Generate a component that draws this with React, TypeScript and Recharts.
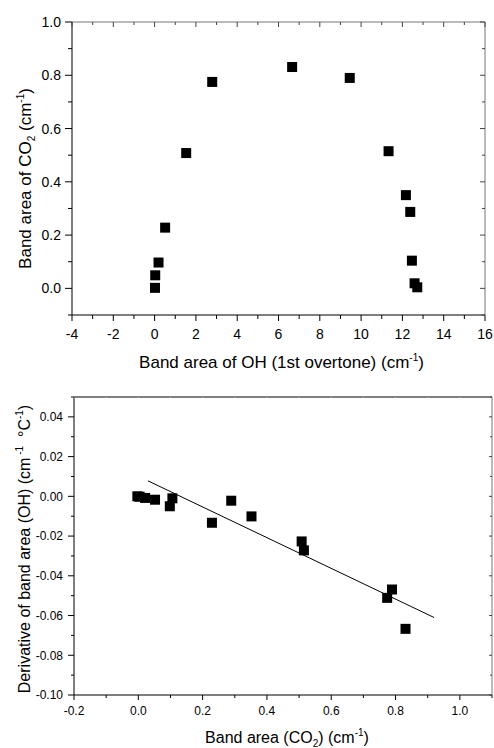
import React from 'react';
import { ScatterChart, Scatter, XAxis, YAxis } from 'recharts';

// upper panel: CO2 band area vs OH 1st overtone band area
const ohArea = [0.02, 0.03, 0.19, 0.51, 1.53, 2.79, 6.66, 9.45, 11.33, 12.17, 12.38, 12.46, 12.59, 12.72];
const co2Area = [0.002, 0.049, 0.097, 0.228, 0.508, 0.775, 0.831, 0.79, 0.515, 0.35, 0.287, 0.104, 0.019, 0.004];

// lower panel: derivative of OH band area vs CO2 band area
const co2X = [-0.003, 0.004, 0.021, 0.052, 0.098, 0.106, 0.229, 0.289, 0.352, 0.508, 0.515, 0.774, 0.789, 0.831];
const dOH = [0.0, -0.0002, -0.0008, -0.0017, -0.005, -0.001, -0.0133, -0.0022, -0.0101, -0.0227, -0.0272, -0.0511, -0.0469, -0.0667];
const fitX = [0.03, 0.92];
const fitY = [0.0078, -0.061];

const topXMajor = [-4, -2, 0, 2, 4, 6, 8, 10, 12, 14, 16];
const topXMinor = [-3, -1, 1, 3, 5, 7, 9, 11, 13, 15];
const topYMajor = [0, 0.2, 0.4, 0.6, 0.8, 1.0];
const topYMinor = [-0.1, 0.1, 0.3, 0.5, 0.7, 0.9];

const botXMajor = [-0.2, 0, 0.2, 0.4, 0.6, 0.8, 1.0];
const botXMinor = [-0.1, 0.1, 0.3, 0.5, 0.7, 0.9, 1.1];
const botYMajor = [-0.1, -0.08, -0.06, -0.04, -0.02, 0, 0.02, 0.04];
const botYMinor = [-0.09, -0.07, -0.05, -0.03, -0.01, 0.01, 0.03, 0.05];

const FONT = '"Liberation Sans", Arial, sans-serif';

const merge = (a: number[], b: number[]) => [...a, ...b].sort((p, q) => p - q);

type TickOpts = {
  side: 'bottom' | 'left' | 'top' | 'right';
  majors: number[];
  fmt?: (v: number) => string;
  fontSize?: number;
  major: number;
  minor: number;
  inward?: boolean;
  gap?: number;
  color?: string;
};

function makeTick(o: TickOpts) {
  return (props: any) => {
    const { x, y, payload } = props;
    const v = payload.value;
    const isMajor = o.majors.some((m) => Math.abs(m - v) < 1e-9);
    const len = isMajor ? o.major : o.minor;
    const dir = o.inward ? -1 : 1;
    let x2 = x;
    let y2 = y;
    if (o.side === 'bottom') y2 = y + dir * len;
    if (o.side === 'top') y2 = y - dir * len;
    if (o.side === 'left') x2 = x - dir * len;
    if (o.side === 'right') x2 = x + dir * len;
    let label = null;
    if (isMajor && o.fmt) {
      label =
        o.side === 'bottom' ? (
          <text x={x} y={y + (o.gap ?? 0)} textAnchor="middle" fontSize={o.fontSize} fontFamily={FONT} fill="#000">
            {o.fmt(v)}
          </text>
        ) : (
          <text x={x - len - (o.gap ?? 0)} y={y} dy="0.36em" textAnchor="end" fontSize={o.fontSize} fontFamily={FONT} fill="#000">
            {o.fmt(v)}
          </text>
        );
    }
    return (
      <g>
        <line x1={x} y1={y} x2={x2} y2={y2} stroke={o.color ?? '#000'} strokeWidth={1} />
        {label}
      </g>
    );
  };
}

const square = (p: any) => <rect x={p.cx - 5} y={p.cy - 5} width={10} height={10} fill="#000" />;
const nothing = () => <g />;

const TopXTitle = (props: any) => {
  const vb = props.viewBox;
  return (
    <text x={vb.x + vb.width / 2 + 3} y={vb.y + 53} textAnchor="middle" fontSize={17} fontFamily={FONT} fill="#000">
      Band area of OH (1st overtone) (cm<tspan dy={-7} fontSize={10}>-1</tspan>
      <tspan dy={7}>)</tspan>
    </text>
  );
};

const TopYTitle = (props: any) => {
  const vb = props.viewBox;
  const cx = vb.x + 31;
  const cy = vb.y + vb.height / 2 + 10;
  return (
    <text x={cx} y={cy} transform={`rotate(-90, ${cx}, ${cy})`} textAnchor="middle" fontSize={17} fontFamily={FONT} fill="#000">
      Band area of CO<tspan dy={4} fontSize={10}>2</tspan>
      <tspan dy={-4}> (cm</tspan>
      <tspan dy={-7} fontSize={10}>-1</tspan>
      <tspan dy={7}>)</tspan>
    </text>
  );
};

const BotXTitle = (props: any) => {
  const vb = props.viewBox;
  return (
    <text x={vb.x + vb.width / 2 + 4} y={vb.y + 48} textAnchor="middle" fontSize={16} fontFamily={FONT} fill="#000">
      Band area (CO<tspan dy={4} fontSize={10}>2</tspan>
      <tspan dy={-4}>) (cm</tspan>
      <tspan dy={-7} fontSize={10}>-1</tspan>
      <tspan dy={7}>)</tspan>
    </text>
  );
};

const BotYTitle = (props: any) => {
  const vb = props.viewBox;
  const cx = vb.x + 30;
  const cy = vb.y + vb.height / 2 + 3;
  return (
    <text x={cx} y={cy} transform={`rotate(-90, ${cx}, ${cy})`} textAnchor="middle" fontSize={16} fontFamily={FONT} fill="#000">
      Derivative of band area (OH) (cm<tspan dy={-7} fontSize={10}>{'\u00a0-1'}</tspan>
      <tspan dy={7}>{'\u00a0\u00a0°C'}</tspan>
      <tspan dy={-7} fontSize={10}>-1</tspan>
      <tspan dy={7}>)</tspan>
    </text>
  );
};

function TopChart() {
  const data = ohArea.map((x, i) => ({ x, y: co2Area[i] }));
  const xTicks = merge(topXMajor, topXMinor);
  const yTicks = merge(topYMajor, topYMinor);
  return (
    <ScatterChart width={494} height={374} margin={{ top: 21, right: 8, bottom: 0, left: 0 }}>
      <XAxis
        dataKey="x"
        type="number"
        domain={[-4, 16]}
        ticks={xTicks}
        interval={0}
        height={59}
        tickSize={0}
        tickMargin={0}
        axisLine={{ stroke: '#000' }}
        tickLine={false}
        tick={makeTick({ side: 'bottom', majors: topXMajor, fmt: (v) => String(v), fontSize: 14, major: 6, minor: 4, gap: 24 })}
        label={TopXTitle}
      />
      <XAxis
        xAxisId="t"
        dataKey="x"
        orientation="top"
        type="number"
        domain={[-4, 16]}
        ticks={xTicks}
        interval={0}
        height={1}
        tickSize={0}
        tickMargin={0}
        axisLine={{ stroke: '#777' }}
        tickLine={false}
        tick={makeTick({ side: 'top', majors: topXMajor, major: 5, minor: 3, inward: true, color: '#444' })}
      />
      <YAxis
        dataKey="y"
        type="number"
        domain={[-0.1, 1.0]}
        ticks={yTicks}
        interval={0}
        width={72}
        tickSize={0}
        tickMargin={0}
        axisLine={{ stroke: '#000' }}
        tickLine={false}
        tick={makeTick({ side: 'left', majors: topYMajor, fmt: (v) => v.toFixed(1), fontSize: 14, major: 7, minor: 4, gap: 4 })}
        label={TopYTitle}
      />
      <YAxis
        yAxisId="r"
        dataKey="y"
        orientation="right"
        type="number"
        domain={[-0.1, 1.0]}
        ticks={yTicks}
        interval={0}
        width={1}
        tickSize={0}
        tickMargin={0}
        axisLine={{ stroke: '#777' }}
        tickLine={false}
        tick={makeTick({ side: 'right', majors: topYMajor, major: 5, minor: 3, inward: true, color: '#444' })}
      />
      <Scatter xAxisId="t" yAxisId="r" data={data} shape={nothing} isAnimationActive={false} />
      <Scatter data={data} shape={square} isAnimationActive={false} />
    </ScatterChart>
  );
}

function BottomChart() {
  const data = co2X.map((x, i) => ({ x, y: dOH[i] }));
  const fit = fitX.map((x, i) => ({ x, y: fitY[i] }));
  const xTicks = merge(botXMajor, botXMinor);
  const yTicks = merge(botYMajor, botYMinor);
  return (
    <ScatterChart width={494} height={374} margin={{ top: 22, right: 1, bottom: 0, left: 0 }}>
      <XAxis
        dataKey="x"
        type="number"
        domain={[-0.2, 1.1]}
        ticks={xTicks}
        interval={0}
        height={53}
        tickSize={0}
        tickMargin={0}
        axisLine={{ stroke: '#000' }}
        tickLine={false}
        tick={makeTick({ side: 'bottom', majors: botXMajor, fmt: (v) => v.toFixed(1), fontSize: 12, major: 5, minor: 3, gap: 20 })}
        label={BotXTitle}
      />
      <XAxis
        xAxisId="t"
        dataKey="x"
        orientation="top"
        type="number"
        domain={[-0.2, 1.1]}
        ticks={xTicks}
        interval={0}
        height={1}
        tickSize={0}
        tickMargin={0}
        axisLine={{ stroke: '#000' }}
        tickLine={false}
        tick={makeTick({ side: 'top', majors: botXMajor, major: 1, minor: 1, inward: true, color: '#bbb' })}
      />
      <YAxis
        dataKey="y"
        type="number"
        domain={[-0.1, 0.05]}
        ticks={yTicks}
        interval={0}
        width={74}
        tickSize={0}
        tickMargin={0}
        axisLine={{ stroke: '#000' }}
        tickLine={false}
        tick={makeTick({ side: 'left', majors: botYMajor, fmt: (v) => v.toFixed(2), fontSize: 12, major: 6, minor: 3, gap: 5 })}
        label={BotYTitle}
      />
      <YAxis
        yAxisId="r"
        dataKey="y"
        orientation="right"
        type="number"
        domain={[-0.1, 0.05]}
        ticks={yTicks}
        interval={0}
        width={1}
        tickSize={0}
        tickMargin={0}
        axisLine={{ stroke: '#777' }}
        tickLine={false}
        tick={makeTick({ side: 'right', majors: botYMajor, major: 3, minor: 2, inward: true, color: '#444' })}
      />
      <Scatter xAxisId="t" yAxisId="r" data={data} shape={nothing} isAnimationActive={false} />
      <Scatter data={fit} line={{ stroke: '#000', strokeWidth: 1 }} shape={nothing} isAnimationActive={false} />
      <Scatter data={data} shape={square} isAnimationActive={false} />
    </ScatterChart>
  );
}

export default function App() {
  return (
    <div style={{ position: 'absolute', left: 0, top: 0, width: 494, height: 748, background: '#fff' }}>
      <TopChart />
      <BottomChart />
    </div>
  );
}
